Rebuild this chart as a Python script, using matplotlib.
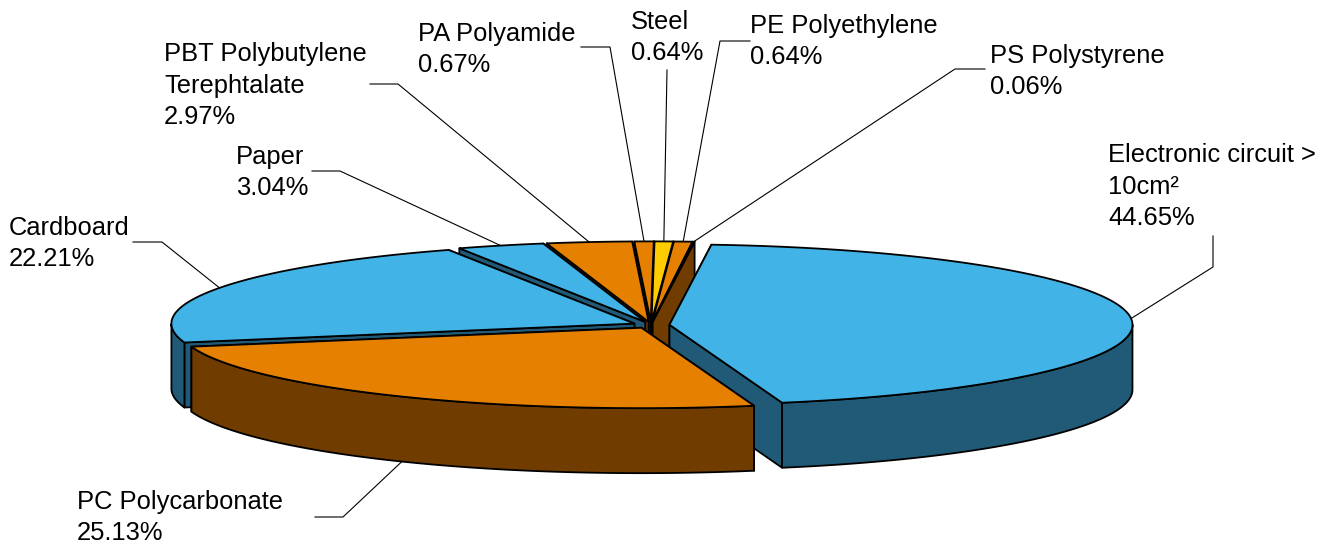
import numpy as np
import matplotlib
matplotlib.use("Agg")
import matplotlib.pyplot as plt
from matplotlib.patches import Polygon

plt.rcParams['font.family'] = ['Liberation Sans', 'DejaVu Sans']

# slices, clockwise, starting at the big one
names = ["Electronic circuit >\n10cm²", "PC Polycarbonate", "Cardboard", "Paper",
         "PBT Polybutylene\nTerephtalate", "PA Polyamide", "Steel", "PE Polyethylene", "PS Polystyrene"]
shares = [44.65, 25.13, 22.21, 3.04, 2.97, 0.67, 0.64, 0.64, 0.06]
top_colors = ["#41B3E6", "#E68000", "#41B3E6", "#41B3E6", "#E68000", "#E68000", "#FFCC00", "#E68000", "#E68000"]
side_colors = ["#215A76", "#703C00", "#215A76", "#215A76", "#703C00", "#703C00", "#806600", "#703C00", "#703C00"]

# text position (left, centre y) and the elbow of each leader line
label_pos = [(1108, 186), (77, 517), (9, 243), (236, 172), (164, 85), (418, 49), (631, 37), (750, 41), (990, 71)]
leader_pts = [[(1213, 236), (1213, 267)], [(315, 517), (343, 517)], [(133, 242), (162, 242)],
              [(312, 171), (340, 171)], [(370, 84), (398, 84)], [(581, 47), (610, 47)],
              [(667, 70)], [(750, 41), (720, 41)], [(985, 69), (955, 69)]]

# pie geometry in pixels
cx, cy = 651, 325
rx, ry = 463, 80.4
depth = 65
explode = 0.04
start_deg = 5.2
# back to front, so the near slices hide the walls of the far ones
draw_order = [5, 6, 7, 8, 4, 3, 2, 0, 1]


def rim(ax0, ay0, t):
    return ax0 + rx * np.sin(t), ay0 - ry * np.cos(t)


fig = plt.figure(figsize=(13.29, 5.45), dpi=100)
ax = fig.add_axes([0, 0, 1, 1])
ax.set_xlim(0, 1329)
ax.set_ylim(545, 0)
ax.axis('off')

fracs = np.array(shares) / sum(shares)
edges = np.radians(start_deg) + 2 * np.pi * np.concatenate([[0], np.cumsum(fracs)])
lw = 1.3

for i in draw_order:
    t0, t1 = edges[i], edges[i + 1]
    mid = (t0 + t1) / 2
    ax0, ay0 = rim(cx, cy, mid)
    ax0 = cx + explode * (ax0 - cx)
    ay0 = cy + explode * (ay0 - cy)
    ts = np.linspace(t0, t1, 200)
    xs, ys = rim(ax0, ay0, ts)

    # flat walls, the one further back first
    for t in sorted((t0, t1), key=lambda a: rim(ax0, ay0, a)[1]):
        x, y = rim(ax0, ay0, t)
        wall = [(ax0, ay0), (x, y), (x, y + depth), (ax0, ay0 + depth)]
        ax.add_patch(Polygon(wall, fc=side_colors[i], ec='black', lw=lw, joinstyle='round'))

    # outer wall, only the part that faces the viewer
    front = np.cos(ts) <= 0
    if front.any():
        fx, fy = xs[front], ys[front]
        outer = list(zip(fx, fy)) + list(zip(fx[::-1], fy[::-1] + depth))
        ax.add_patch(Polygon(outer, fc=side_colors[i], ec='black', lw=lw, joinstyle='round'))

    top = [(ax0, ay0)] + list(zip(xs, ys))
    ax.add_patch(Polygon(top, fc=top_colors[i], ec='black', lw=lw, joinstyle='round'))

# leaders and labels
for i in range(len(names)):
    mid = (edges[i] + edges[i + 1]) / 2
    ax0, ay0 = rim(cx, cy, mid)
    ax0 = cx + explode * (ax0 - cx)
    ay0 = cy + explode * (ay0 - cy)
    x, y = rim(ax0, ay0, mid)
    if np.cos(mid) < 0:
        y = y + depth
    pts = leader_pts[i] + [(x, y)]
    ax.plot([p[0] for p in pts], [p[1] for p in pts], color='black', lw=0.8, zorder=5)
    ax.text(label_pos[i][0], label_pos[i][1] + 0.7, f"{names[i]}\n{shares[i]:.2f}%", fontsize=18.4,
            ha='left', va='center', linespacing=1.39, color='black', zorder=6)

fig.savefig("out.png", dpi=100)
